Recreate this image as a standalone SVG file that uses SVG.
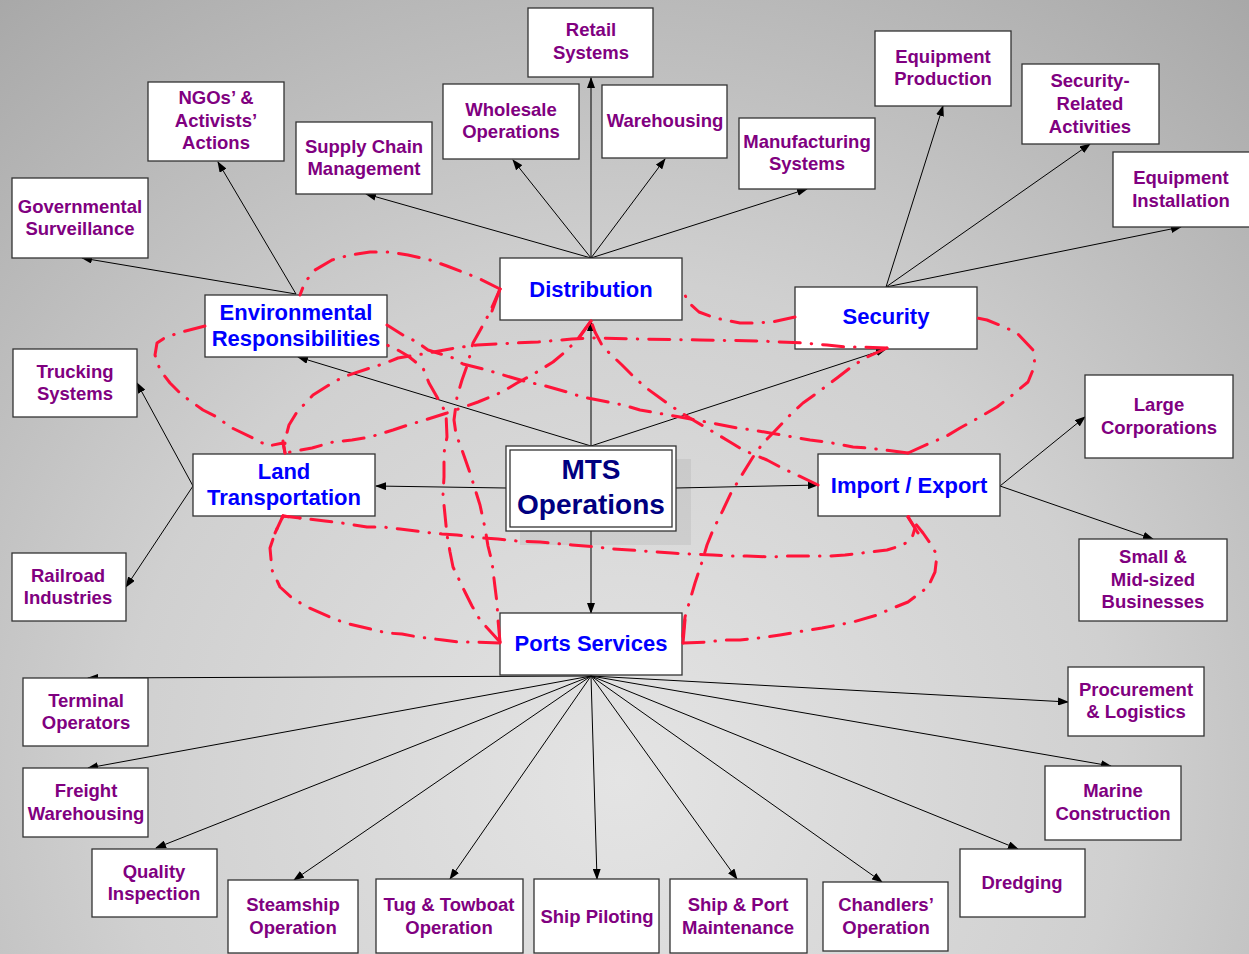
<svg xmlns="http://www.w3.org/2000/svg" width="1249" height="954" viewBox="0 0 1249 954">
<defs>
<radialGradient id="bg" gradientUnits="userSpaceOnUse" cx="620" cy="780" r="1000">
<stop offset="0" stop-color="#e4e4e4"/>
<stop offset="0.5" stop-color="#d0d0d0"/>
<stop offset="1" stop-color="#a8a8a8"/>
</radialGradient>
<marker id="ah" markerUnits="userSpaceOnUse" markerWidth="11" markerHeight="8" refX="10" refY="4" orient="auto">
<path d="M0,0 L11,4 L0,8 z" fill="#000"/>
</marker>
<style>
.box{fill:#fff;stroke:#333;stroke-width:1.3}
.p{font-family:"Liberation Sans",Arial,sans-serif;font-weight:bold;font-size:18.5px;fill:#800080;text-anchor:middle}
.b{font-family:"Liberation Sans",Arial,sans-serif;font-weight:bold;font-size:22px;fill:#0000ff;text-anchor:middle}
.m{font-family:"Liberation Sans",Arial,sans-serif;font-weight:bold;font-size:28px;fill:#000080;text-anchor:middle}
.c line{stroke:#000;stroke-width:1;marker-end:url(#ah)}
.r path{fill:none;stroke:#ff1439;stroke-width:3;stroke-dasharray:21 11 0.5 11;stroke-linecap:round;stroke-linejoin:round}
.r line{stroke:#ff1439;stroke-width:3;stroke-linecap:round}
</style>
</defs>
<rect x="0" y="0" width="1249" height="954" fill="url(#bg)"/>
<rect x="520" y="459" width="171" height="86" fill="#000" opacity="0.06"/>

<g id="connectors" class="c">
<line x1="591" y1="258" x2="591" y2="78"/>
<line x1="591" y1="258" x2="513" y2="160"/>
<line x1="591" y1="258" x2="665" y2="159"/>
<line x1="591" y1="258" x2="807" y2="189"/>
<line x1="591" y1="258" x2="366" y2="194"/>
<line x1="296" y1="294" x2="218" y2="162"/>
<line x1="296" y1="294" x2="82" y2="258"/>
<line x1="591" y1="446" x2="298" y2="357"/>
<line x1="591" y1="446" x2="591" y2="321"/>
<line x1="591" y1="446" x2="886" y2="349"/>
<line x1="506" y1="488" x2="376" y2="486"/>
<line x1="676" y1="488" x2="818" y2="485"/>
<line x1="591" y1="531" x2="591" y2="613"/>
<line x1="886" y1="287" x2="943" y2="106"/>
<line x1="886" y1="287" x2="1090" y2="144"/>
<line x1="886" y1="287" x2="1181" y2="227"/>
<line x1="193" y1="486" x2="137" y2="383"/>
<line x1="193" y1="486" x2="126" y2="587"/>
<line x1="1000" y1="486" x2="1085" y2="417"/>
<line x1="1000" y1="486" x2="1153" y2="539"/>
<line x1="591" y1="676" x2="88" y2="678"/>
<line x1="591" y1="676" x2="88" y2="768"/>
<line x1="591" y1="676" x2="156" y2="848"/>
<line x1="591" y1="676" x2="294" y2="880"/>
<line x1="591" y1="676" x2="450" y2="879"/>
<line x1="591" y1="676" x2="597" y2="879"/>
<line x1="591" y1="676" x2="737" y2="879"/>
<line x1="591" y1="676" x2="882" y2="882"/>
<line x1="591" y1="676" x2="1018" y2="849"/>
<line x1="591" y1="676" x2="1111" y2="766"/>
<line x1="591" y1="676" x2="1068" y2="702"/>
</g>

<g id="retail"><rect class="box" x="528" y="8" width="125" height="69"/><text class="p" x="591" y="36">Retail</text><text class="p" x="591" y="59">Systems</text></g>
<g id="wholesale"><rect class="box" x="443" y="84" width="136" height="75"/><text class="p" x="511" y="116">Wholesale</text><text class="p" x="511" y="138">Operations</text></g>
<g id="warehousing"><rect class="box" x="602" y="85" width="125" height="73"/><text class="p" x="665" y="127">Warehousing</text></g>
<g id="manufacturing"><rect class="box" x="739" y="118" width="136" height="71"/><text class="p" x="807" y="148">Manufacturing</text><text class="p" x="807" y="170">Systems</text></g>
<g id="supply"><rect class="box" x="296" y="122" width="136" height="72"/><text class="p" x="364" y="153">Supply Chain</text><text class="p" x="364" y="175">Management</text></g>
<g id="ngos"><rect class="box" x="148" y="82" width="136" height="79"/><text class="p" x="216" y="104">NGOs’ &amp;</text><text class="p" x="216" y="127">Activists’</text><text class="p" x="216" y="149">Actions</text></g>
<g id="governmental"><rect class="box" x="12" y="178" width="136" height="80"/><text class="p" x="80" y="213">Governmental</text><text class="p" x="80" y="235">Surveillance</text></g>
<g id="eqprod"><rect class="box" x="875" y="31" width="136" height="75"/><text class="p" x="943" y="63">Equipment</text><text class="p" x="943" y="85">Production</text></g>
<g id="secrel"><rect class="box" x="1022" y="64" width="137" height="80"/><text class="p" x="1090" y="87">Security-</text><text class="p" x="1090" y="110">Related</text><text class="p" x="1090" y="133">Activities</text></g>
<g id="eqinst"><rect class="box" x="1113" y="152" width="140" height="75"/><text class="p" x="1181" y="184">Equipment</text><text class="p" x="1181" y="207">Installation</text></g>
<g id="distribution"><rect class="box" x="500" y="258" width="182" height="62"/><text class="b" x="591" y="297">Distribution</text></g>
<g id="security"><rect class="box" x="795" y="287" width="182" height="62"/><text class="b" x="886" y="324">Security</text></g>
<g id="environmental"><rect class="box" x="205" y="295" width="182" height="62"/><text class="b" x="296" y="320">Environmental</text><text class="b" x="296" y="346">Responsibilities</text></g>
<g id="land"><rect class="box" x="193" y="454" width="182" height="62"/><text class="b" x="284" y="479">Land</text><text class="b" x="284" y="505">Transportation</text></g>
<g id="importexport"><rect class="box" x="818" y="454" width="182" height="62"/><text class="b" x="909" y="493">Import / Export</text></g>
<g id="ports"><rect class="box" x="500" y="613" width="182" height="62"/><text class="b" x="591" y="651">Ports Services</text></g>
<g id="mts"><rect class="box" x="506" y="446" width="170" height="85"/><rect x="510" y="450" width="162" height="77" fill="none" stroke="#333" stroke-width="1.3"/><text class="m" x="591" y="479">MTS</text><text class="m" x="591" y="514">Operations</text></g>
<g id="trucking"><rect class="box" x="13" y="349" width="124" height="68"/><text class="p" x="75" y="378">Trucking</text><text class="p" x="75" y="400">Systems</text></g>
<g id="railroad"><rect class="box" x="12" y="553" width="114" height="68"/><text class="p" x="68" y="582">Railroad</text><text class="p" x="68" y="604">Industries</text></g>
<g id="large"><rect class="box" x="1085" y="375" width="148" height="83"/><text class="p" x="1159" y="411">Large</text><text class="p" x="1159" y="434">Corporations</text></g>
<g id="small"><rect class="box" x="1079" y="539" width="148" height="82"/><text class="p" x="1153" y="563">Small &amp;</text><text class="p" x="1153" y="586">Mid-sized</text><text class="p" x="1153" y="608">Businesses</text></g>
<g id="terminal"><rect class="box" x="23" y="678" width="125" height="68"/><text class="p" x="86" y="707">Terminal</text><text class="p" x="86" y="729">Operators</text></g>
<g id="freight"><rect class="box" x="23" y="768" width="125" height="69"/><text class="p" x="86" y="797">Freight</text><text class="p" x="86" y="820">Warehousing</text></g>
<g id="quality"><rect class="box" x="92" y="849" width="125" height="68"/><text class="p" x="154" y="878">Quality</text><text class="p" x="154" y="900">Inspection</text></g>
<g id="steamship"><rect class="box" x="228" y="880" width="130" height="73"/><text class="p" x="293" y="911">Steamship</text><text class="p" x="293" y="934">Operation</text></g>
<g id="tug"><rect class="box" x="376" y="879" width="147" height="74"/><text class="p" x="449" y="911">Tug &amp; Towboat</text><text class="p" x="449" y="934">Operation</text></g>
<g id="piloting"><rect class="box" x="534" y="879" width="125" height="74"/><text class="p" x="597" y="923">Ship Piloting</text></g>
<g id="shipport"><rect class="box" x="670" y="879" width="137" height="74"/><text class="p" x="738" y="911">Ship &amp; Port</text><text class="p" x="738" y="934">Maintenance</text></g>
<g id="chandlers"><rect class="box" x="823" y="882" width="125" height="69"/><text class="p" x="886" y="911">Chandlers’</text><text class="p" x="886" y="934">Operation</text></g>
<g id="dredging"><rect class="box" x="960" y="849" width="125" height="68"/><text class="p" x="1022" y="889">Dredging</text></g>
<g id="marine"><rect class="box" x="1045" y="766" width="136" height="74"/><text class="p" x="1113" y="797">Marine</text><text class="p" x="1113" y="820">Construction</text></g>
<g id="procurement"><rect class="box" x="1068" y="667" width="136" height="69"/><text class="p" x="1136" y="696">Procurement</text><text class="p" x="1136" y="718">&amp; Logistics</text></g>

<g id="relations" class="r">
<path d="M500,289 L478,278 L447,266 L430,260 L408,255 L390,252 L370,252 L350,255 L332,260 L315,270 L305,282 L300,295"/>
<path d="M500,642 L498,620 L497,603 L495,587 L492,562 L488,546 L485,528 L480,505 L475,489 L470,473 L462,450 L456,434 L454,420 L457,397 L462,380 L468,363 L473,343 L483,325 L490,312 L500,289"/>
<path d="M500,642 L480,620 L472,606 L465,592 L453,567 L450,552 L447,535 L445,515 L443,495 L444,477 L444,453 L447,437 L446,413 L437,397 L429,383 L423,368 L408,356 L396,349 L387,345"/>
<path d="M908,453 L885,450 L868,448 L853,447 L827,442 L810,440 L793,437 L770,433 L753,430 L737,428 L712,423 L680,417 L657,413 L640,410 L623,405 L598,400 L582,397 L567,392 L542,385 L527,382 L510,377 L487,370 L463,364 L453,358 L428,350 L417,342 L403,335 L387,325"/>
<path d="M908,453 L930,443 L945,437 L960,428 L980,417 L997,407 L1010,397 L1028,382 L1035,365 L1033,350 L1017,333 L1002,326 L987,320 L977,318"/>
<path d="M795,317 L772,322 L755,323 L740,323 L715,318 L699,312 L688,302 L682,288"/>
<path d="M887,348 L862,347 L845,347 L827,345 L803,343 L760,341 L700,340 L640,339 L590,338 L572,339 L538,342 L514,343 L497,344 L477,345 L455,348 L423,354 L398,358 L383,364 L367,369 L343,377 L329,385 L313,395 L297,412 L289,425 L285,440 L285,453"/>
<path d="M887,348 L865,358 L850,368 L837,378 L817,393 L803,403 L792,413 L773,433 L763,443 L753,457 L740,478 L731,493 L723,510 L713,530 L707,545 L702,562 L695,583 L690,600 L685,617 L682,643"/>
<path d="M591,321 L577,340 L565,352 L553,362 L532,375 L517,383 L502,392 L478,402 L447,413 L425,420 L408,425 L393,430 L370,437 L352,440 L333,442 L312,448 L296,451 L285,453"/>
<path d="M818,485 L797,475 L782,468 L767,460 L743,450 L730,442 L715,433 L693,420 L680,412 L667,403 L645,387 L633,376 L622,365 L603,347 L595,332 L591,321"/>
<path d="M285,453 L283,443 L268,446 L253,438 L230,427 L217,417 L203,410 L182,395 L170,383 L160,370 L155,355 L157,343 L166,337 L182,332 L205,326"/>
<path d="M500,643 L475,642 L459,642 L443,640 L418,637 L402,634 L387,633 L362,627 L345,623 L330,617 L307,607 L292,598 L280,587 L272,570 L270,548 L275,533 L283,516"/>
<path d="M908,517 L915,528 L912,538 L903,545 L887,550 L862,553 L845,555 L830,556 L805,556 L788,556 L772,557 L747,556 L730,556 L713,555 L688,554 L672,553 L657,552 L630,550 L613,549 L597,547 L572,545 L540,542 L517,541 L498,539 L482,538 L457,535 L442,534 L423,532 L400,529 L383,527 L367,527 L342,523 L325,521 L300,518 L283,516"/>
<path d="M683,643 L708,642 L723,640 L740,640 L767,637 L780,635 L797,632 L822,628 L838,625 L853,622 L877,615 L893,608 L908,602 L928,587 L935,572 L937,555 L930,543 L923,533 L915,523 L908,516"/>
<line x1="500" y1="289" x2="492" y2="311"/>
<line x1="683" y1="643" x2="685" y2="620"/>
<line x1="283" y1="516" x2="275" y2="533"/>
<line x1="283" y1="516" x2="300" y2="518"/>
<line x1="908" y1="517" x2="918" y2="533"/>
<line x1="285" y1="453" x2="283" y2="441"/>
<line x1="591" y1="321" x2="579" y2="338"/>
</g>
</svg>
